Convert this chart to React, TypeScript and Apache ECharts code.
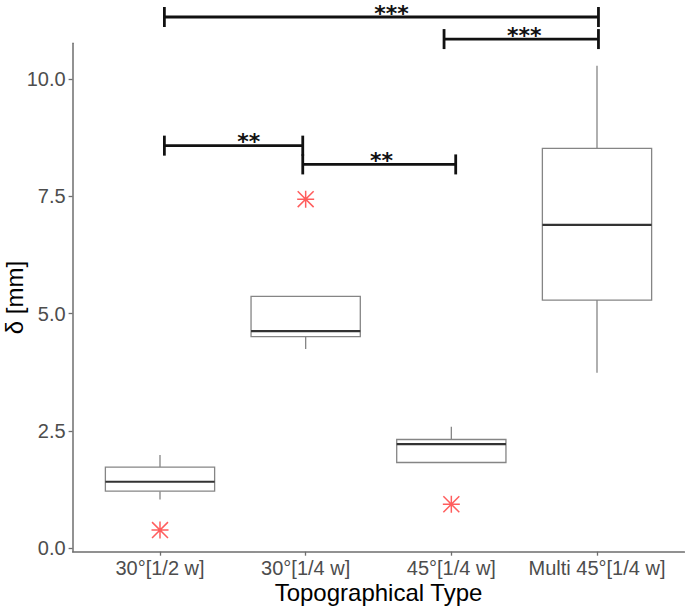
import React, { useEffect, useRef } from "react";
import * as echarts from "echarts";

// ---- data ----
const categories = ["30°[1/2 w]", "30°[1/4 w]", "45°[1/4 w]", "Multi 45°[1/4 w]"];
// [min, Q1, median, Q3, max]
const boxStats = [
  [1.04, 1.22, 1.42, 1.73, 1.99],
  [4.25, 4.51, 4.63, 5.37, 5.37],
  [1.83, 1.83, 2.22, 2.32, 2.59],
  [3.74, 5.29, 6.89, 8.52, 10.28],
];
// [category index, value]
const outliers = [
  [0, 0.39],
  [1, 7.44],
  [2, 0.94],
];
const yTicks = [0, 2.5, 5, 7.5, 10];
const xTicks = [0, 1, 2, 3];
// significance brackets: [x start, x end, y level, label x]
const brackets = [
  [0.03, 3.01, 11.32, 1.59],
  [1.95, 3.01, 10.85, 2.5],
  [0.03, 0.98, 8.58, 0.61],
  [0.98, 2.03, 8.18, 1.52],
];
const bracketLabels = ["***", "***", "**", "**"];

const STAR_PATH =
  "path://M7.3,0L8.7,0L8.7,16L7.3,16Z M0,7.3L16,7.3L16,8.7L0,8.7Z M1,0L16,15L15,16L0,1Z M15,0L16,1L1,16L0,15Z";

const FONT = "'Liberation Sans', Arial, sans-serif";

export default function App() {
  const ref = useRef<HTMLDivElement>(null);
  useEffect(() => {
    document.body.style.margin = "0";
    const chart = echarts.init(ref.current!, null, { renderer: "svg" });
    const boxData = boxStats.map((s, i) => [i, ...s]);
    chart.setOption({
      animation: false,
      backgroundColor: "#ffffff",
      grid: { left: 72.6, right: 0.6, top: 43.3, bottom: 60.3, containLabel: false, outerBoundsMode: "none" },
      xAxis: {
        type: "value",
        min: -0.6,
        max: 3.6,
        name: "Topographical Type",
        nameLocation: "middle",
        nameGap: 29,
        nameMoveOverlap: false,
        nameTextStyle: { fontSize: 24, color: "#000", fontFamily: FONT },
        splitLine: { show: false },
        axisLine: { show: true, onZero: false, lineStyle: { color: "#6e6e6e", width: 1.5 } },
        axisTick: { show: true, length: 4, customValues: xTicks, lineStyle: { color: "#6e6e6e", width: 1.3 } },
        axisLabel: {
          customValues: xTicks,
          formatter: (v: number) => categories[Math.round(v)] ?? "",
          fontSize: 20,
          color: "#4d4d4d",
          fontFamily: FONT,
          margin: 6,
        },
      },
      yAxis: {
        type: "value",
        min: -0.07,
        max: 10.76,
        name: "δ [mm]",
        nameLocation: "middle",
        nameGap: 46,
        nameMoveOverlap: false,
        nameTextStyle: { fontSize: 24, color: "#000", fontFamily: FONT },
        splitLine: { show: false },
        axisLine: { show: true, onZero: false, lineStyle: { color: "#6e6e6e", width: 1.5 } },
        axisTick: { show: true, length: 4, customValues: yTicks, lineStyle: { color: "#6e6e6e", width: 1.3 } },
        axisLabel: {
          customValues: yTicks,
          formatter: (v: number) => v.toFixed(1),
          fontSize: 20,
          color: "#4d4d4d",
          fontFamily: FONT,
          margin: 7,
        },
      },
      series: [
        {
          type: "custom",
          name: "box",
          data: boxData,
          encode: { x: 0, y: [1, 2, 3, 4, 5] },
          renderItem: (params: any, api: any) => {
            const x = api.value(0);
            const pMin = api.coord([x, api.value(1)]);
            const pQ1 = api.coord([x, api.value(2)]);
            const pMed = api.coord([x, api.value(3)]);
            const pQ3 = api.coord([x, api.value(4)]);
            const pMax = api.coord([x, api.value(5)]);
            const half = api.size([0.75, 0])[0] / 2;
            const cx = pMed[0];
            const grey = "#858585";
            return {
              type: "group",
              children: [
                {
                  type: "line",
                  shape: { x1: cx, y1: pQ3[1], x2: cx, y2: pMax[1] },
                  style: { stroke: grey, lineWidth: 1.3 },
                },
                {
                  type: "line",
                  shape: { x1: cx, y1: pQ1[1], x2: cx, y2: pMin[1] },
                  style: { stroke: grey, lineWidth: 1.3 },
                },
                {
                  type: "rect",
                  shape: { x: cx - half, y: pQ3[1], width: half * 2, height: pQ1[1] - pQ3[1] },
                  style: { fill: "#ffffff", stroke: grey, lineWidth: 1.3 },
                },
                {
                  type: "line",
                  shape: { x1: cx - half, y1: pMed[1], x2: cx + half, y2: pMed[1] },
                  style: { stroke: "#333333", lineWidth: 2.2 },
                },
              ],
            };
          },
          z: 2,
        },
        {
          type: "scatter",
          name: "outliers",
          data: outliers,
          symbol: STAR_PATH,
          symbolSize: [17, 17],
          itemStyle: { color: "#ff3535" },
          z: 3,
        },
        {
          type: "custom",
          name: "brackets",
          data: brackets,
          clip: false,
          encode: { x: [0, 1, 3], y: 2 },
          renderItem: (params: any, api: any) => {
            const y = api.value(2);
            const p1 = api.coord([api.value(0), y]);
            const p2 = api.coord([api.value(1), y]);
            const pl = api.coord([api.value(3), y]);
            const t = 10;
            const st = { stroke: "#111", lineWidth: 2.8 };
            return {
              type: "group",
              children: [
                { type: "line", shape: { x1: p1[0], y1: p1[1], x2: p2[0], y2: p2[1] }, style: st },
                { type: "line", shape: { x1: p1[0], y1: p1[1] - t, x2: p1[0], y2: p1[1] + t }, style: st },
                { type: "line", shape: { x1: p2[0], y1: p2[1] - t, x2: p2[0], y2: p2[1] + t }, style: st },
                {
                  type: "text",
                  x: pl[0],
                  y: pl[1] - 4,
                  style: {
                    text: bracketLabels[params.dataIndex],
                    fontSize: 22,
                    lineHeight: 12,
                    fontWeight: "bold",
                    fontFamily: "'DejaVu Sans', sans-serif",
                    fill: "#111",
                    align: "center",
                    verticalAlign: "middle",
                  },
                },
              ],
            };
          },
          z: 4,
        },
      ],
    });
    return () => chart.dispose();
  }, []);
  return <div ref={ref} style={{ width: 685, height: 612 }} />;
}
